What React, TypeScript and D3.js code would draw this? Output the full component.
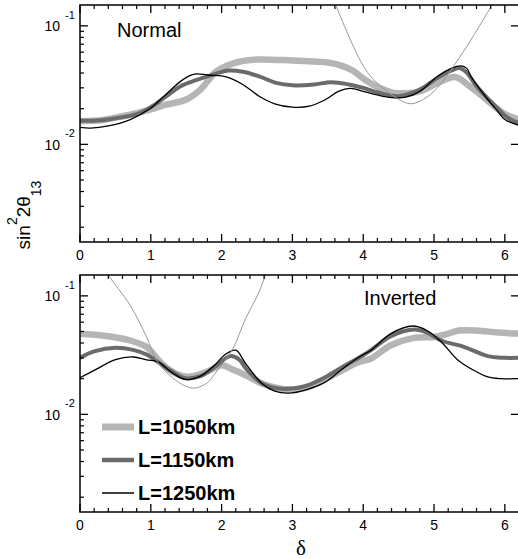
import React from 'react';
import * as d3 from 'd3';

const W = 518;
const H = 559;

// ---------- x axis ----------
const xMajorTicks = [0, 1, 2, 3, 4, 5, 6];
const yMajorTicks = [0.01, 0.1];
const yMajorExponents = ['-2', '-1'];

// ---------- Normal hierarchy (top panel) ----------
const n1050Delta = [0, 0.3, 0.5, 0.8, 1.0, 1.2, 1.5, 1.7, 1.8, 1.9, 2.0, 2.2, 2.5, 3.0, 3.3, 3.5, 3.7, 3.85, 4.0, 4.18, 4.4, 4.6, 4.8, 5.05, 5.3, 5.5, 5.7, 5.85, 6.0, 6.2];
const n1050Value = [0.0157, 0.016, 0.0168, 0.0183, 0.0197, 0.0215, 0.0239, 0.029, 0.034, 0.04, 0.044, 0.049, 0.052, 0.051, 0.05, 0.049, 0.046, 0.042, 0.036, 0.031, 0.0275, 0.027, 0.028, 0.033, 0.037, 0.031, 0.025, 0.021, 0.018, 0.0162];

const n1150Delta = [0, 0.3, 0.5, 0.8, 1.0, 1.2, 1.42, 1.65, 1.89, 2.1, 2.3, 2.53, 2.77, 3.0, 3.3, 3.55, 3.8, 4.0, 4.2, 4.5, 4.8, 5.05, 5.25, 5.36, 5.45, 5.6, 5.8, 5.9, 6.0, 6.1, 6.2];
const n1150Value = [0.0158, 0.016, 0.0166, 0.018, 0.0206, 0.025, 0.031, 0.035, 0.039, 0.042, 0.041, 0.0375, 0.033, 0.0315, 0.032, 0.0335, 0.032, 0.03, 0.0275, 0.0255, 0.029, 0.0364, 0.042, 0.044, 0.041, 0.031, 0.023, 0.02, 0.0175, 0.016, 0.0152];

const n1250Delta = [0, 0.15, 0.4, 0.71, 1.0, 1.2, 1.42, 1.55, 1.65, 1.8, 2.0, 2.12, 2.3, 2.53, 2.75, 3.0, 3.24, 3.47, 3.65, 3.82, 4.0, 4.18, 4.4, 4.6, 4.8, 5.05, 5.25, 5.38, 5.46, 5.52, 5.6, 5.76, 5.9, 6.0, 6.2];
const n1250Value = [0.0139, 0.0137, 0.0143, 0.0162, 0.0203, 0.026, 0.034, 0.038, 0.0393, 0.0385, 0.0378, 0.0363, 0.032, 0.0255, 0.022, 0.0206, 0.021, 0.0239, 0.028, 0.0297, 0.028, 0.0263, 0.0248, 0.025, 0.028, 0.0375, 0.044, 0.046, 0.044, 0.0375, 0.032, 0.0239, 0.019, 0.0162, 0.0145];

const nThinDelta = [3.55, 3.61, 3.82, 4.0, 4.13, 4.34, 4.5, 4.67, 4.85, 5.05, 5.29, 5.52, 5.82, 5.9];
const nThinValue = [0.18, 0.15, 0.076, 0.046, 0.036, 0.028, 0.024, 0.022, 0.024, 0.03, 0.047, 0.076, 0.15, 0.18];

// ---------- Inverted hierarchy (bottom panel) ----------
const i1050Delta = [0, 0.2, 0.47, 0.71, 0.94, 1.1, 1.25, 1.45, 1.6, 1.8, 2.0, 2.15, 2.34, 2.57, 2.8, 3.0, 3.2, 3.47, 3.7, 3.94, 4.11, 4.39, 4.7, 5.0, 5.15, 5.35, 5.6, 5.9, 6.2];
const i1050Value = [0.048, 0.047, 0.045, 0.042, 0.037, 0.029, 0.024, 0.021, 0.021, 0.023, 0.026, 0.024, 0.0214, 0.0182, 0.0166, 0.0162, 0.0168, 0.02, 0.0235, 0.0277, 0.0296, 0.0383, 0.044, 0.045, 0.047, 0.051, 0.051, 0.049, 0.048];

const i1150Delta = [0, 0.2, 0.5, 0.75, 0.94, 1.1, 1.3, 1.49, 1.7, 1.9, 2.12, 2.25, 2.34, 2.57, 2.8, 3.0, 3.2, 3.47, 3.7, 3.94, 4.11, 4.39, 4.72, 4.9, 5.1, 5.43, 5.76, 6.0, 6.2];
const i1150Value = [0.03, 0.034, 0.0365, 0.035, 0.032, 0.0277, 0.023, 0.0202, 0.021, 0.025, 0.031, 0.029, 0.0245, 0.0182, 0.0165, 0.0165, 0.0175, 0.0207, 0.025, 0.03, 0.0348, 0.0457, 0.052, 0.049, 0.042, 0.037, 0.031, 0.03, 0.03];

const i1250Delta = [0, 0.2, 0.5, 0.75, 0.94, 1.1, 1.3, 1.49, 1.7, 1.9, 2.05, 2.2, 2.34, 2.57, 2.75, 2.95, 3.2, 3.47, 3.7, 3.94, 4.11, 4.39, 4.7, 4.9, 5.1, 5.34, 5.52, 5.76, 5.95, 6.2];
const i1250Value = [0.0204, 0.0235, 0.029, 0.0305, 0.0288, 0.0277, 0.0225, 0.0197, 0.021, 0.026, 0.032, 0.0348, 0.0268, 0.0182, 0.0157, 0.0151, 0.0162, 0.0188, 0.024, 0.0305, 0.0348, 0.048, 0.0557, 0.051, 0.041, 0.0286, 0.0243, 0.0207, 0.02, 0.02];

const iThinDelta = [0.33, 0.4, 0.71, 0.94, 1.09, 1.3, 1.5, 1.63, 1.8, 1.95, 2.15, 2.34, 2.53, 2.62, 2.7];
const iThinValue = [0.18, 0.15, 0.083, 0.045, 0.028, 0.0205, 0.0172, 0.0167, 0.0185, 0.024, 0.035, 0.0644, 0.108, 0.15, 0.19];

const legendLabels = ['L=1050km', 'L=1150km', 'L=1250km'];

const styles = [
  { color: '#b5b5b5', width: 6.5 },
  { color: '#6b6b6b', width: 4 },
  { color: '#000000', width: 1.3 },
  { color: '#999999', width: 1 },
];
const legendWidths = [7, 4.5, 1.5];

const FONT = '"Liberation Sans", Arial, Helvetica, sans-serif';

type Series = { delta: number[]; value: number[]; style: { color: string; width: number } };

const X0 = 80;
const X1 = 519;

function Panel({ id, top, bottom, series, label, labelX, labelY }: {
  id: string; top: number; bottom: number; series: Series[]; label: string; labelX: number; labelY: number;
}) {
  const x = d3.scaleLinear().domain([0, 6.2]).range([X0, X1]);
  const y = d3.scaleLog().domain([0.0015, 0.15]).range([bottom, top]);
  const xMinor = d3.range(0, 6.21, 0.2).filter((v) => Math.abs(v - Math.round(v)) > 0.01);
  const yMinor: number[] = [];
  [0.001, 0.01].forEach((d) => {
    for (let k = 2; k <= 9; k++) {
      const v = d * k;
      if (v >= 0.0015 && v <= 0.15) yMinor.push(v);
    }
  });
  const line = d3
    .line<[number, number]>()
    .x((d) => x(d[0]))
    .y((d) => y(d[1]))
    .curve(d3.curveCatmullRom.alpha(0.5));

  return (
    <g>
      <defs>
        <clipPath id={id}>
          <rect x={X0} y={top} width={X1 - X0} height={bottom - top} />
        </clipPath>
      </defs>
      <g clipPath={`url(#${id})`}>
        {series.map((s, i) => (
          <path
            key={i}
            d={line(s.delta.map((d, j) => [d, s.value[j]] as [number, number])) || ''}
            fill="none"
            stroke={s.style.color}
            strokeWidth={s.style.width}
            strokeLinejoin="round"
            strokeLinecap="round"
          />
        ))}
      </g>
      {/* ticks */}
      {xMajorTicks.map((t) => (
        <g key={'xM' + t}>
          <line x1={x(t)} x2={x(t)} y1={bottom} y2={bottom - 8} stroke="#000" strokeWidth={1.3} />
          <line x1={x(t)} x2={x(t)} y1={top} y2={top + 8} stroke="#000" strokeWidth={1.3} />
          <text x={x(t)} y={bottom + 18} textAnchor="middle" fontSize={14} fontFamily={FONT}>{t}</text>
        </g>
      ))}
      {xMinor.map((t, i) => (
        <g key={'xm' + i}>
          <line x1={x(t)} x2={x(t)} y1={bottom} y2={bottom - 4} stroke="#000" strokeWidth={1.2} />
          <line x1={x(t)} x2={x(t)} y1={top} y2={top + 4} stroke="#000" strokeWidth={1.2} />
        </g>
      ))}
      {yMajorTicks.map((t, i) => (
        <g key={'yM' + t}>
          <line x1={X0} x2={X0 + 8} y1={y(t)} y2={y(t)} stroke="#000" strokeWidth={1.3} />
          <line x1={X1} x2={X1 - 8} y1={y(t)} y2={y(t)} stroke="#000" strokeWidth={1.3} />
          <text x={60} y={y(t) + 5.5} textAnchor="end" fontSize={14} fontFamily={FONT}>10</text>
          <text x={65} y={y(t) - 7} fontSize={11} fontFamily={FONT}>{yMajorExponents[i]}</text>
        </g>
      ))}
      {yMinor.map((t, i) => (
        <line key={'ym' + i} x1={X0} x2={X0 + 4} y1={y(t)} y2={y(t)} stroke="#000" strokeWidth={1.2} />
      ))}
      <rect x={X0} y={top} width={X1 - X0} height={bottom - top} fill="none" stroke="#000" strokeWidth={1.5} />
      <text x={labelX} y={labelY} fontSize={20} fontFamily={FONT}>{label}</text>
    </g>
  );
}

export default function App() {
  const topSeries: Series[] = [
    { delta: n1050Delta, value: n1050Value, style: styles[0] },
    { delta: n1150Delta, value: n1150Value, style: styles[1] },
    { delta: n1250Delta, value: n1250Value, style: styles[2] },
    { delta: nThinDelta, value: nThinValue, style: styles[3] },
  ];
  const botSeries: Series[] = [
    { delta: i1050Delta, value: i1050Value, style: styles[0] },
    { delta: i1150Delta, value: i1150Value, style: styles[1] },
    { delta: i1250Delta, value: i1250Value, style: styles[2] },
    { delta: iThinDelta, value: iThinValue, style: styles[3] },
  ];
  const legendY = [427, 460, 493];
  return (
    <svg width={W} height={H} style={{ position: 'absolute', left: 0, top: 0, background: '#fff' }}>
      <rect x={0} y={0} width={W} height={H} fill="#fff" />
      <Panel id="clipTop" top={5} bottom={242} series={topSeries} label="Normal" labelX={117} labelY={37} />
      <Panel id="clipBot" top={275} bottom={512} series={botSeries} label="Inverted" labelX={364} labelY={305} />
      {legendLabels.map((l, i) => (
        <g key={l}>
          <line x1={102} x2={134} y1={legendY[i]} y2={legendY[i]} stroke={styles[i].color} strokeWidth={legendWidths[i]} />
          <text x={138} y={legendY[i] + 7} fontSize={20} fontWeight="bold" fontFamily={FONT}>{l}</text>
        </g>
      ))}
      <text transform="translate(30,215) rotate(-90)" textAnchor="middle" fontSize={19} fontFamily={FONT}>
        <tspan>sin</tspan>
        <tspan dy={-13} fontSize={14}>2</tspan>
        <tspan dy={13}>2θ</tspan>
        <tspan dy={11} fontSize={14}>13</tspan>
      </text>
      <text x={301} y={555} textAnchor="middle" fontSize={21} fontFamily={'"Liberation Serif", "Times New Roman", serif'}>δ</text>
    </svg>
  );
}
